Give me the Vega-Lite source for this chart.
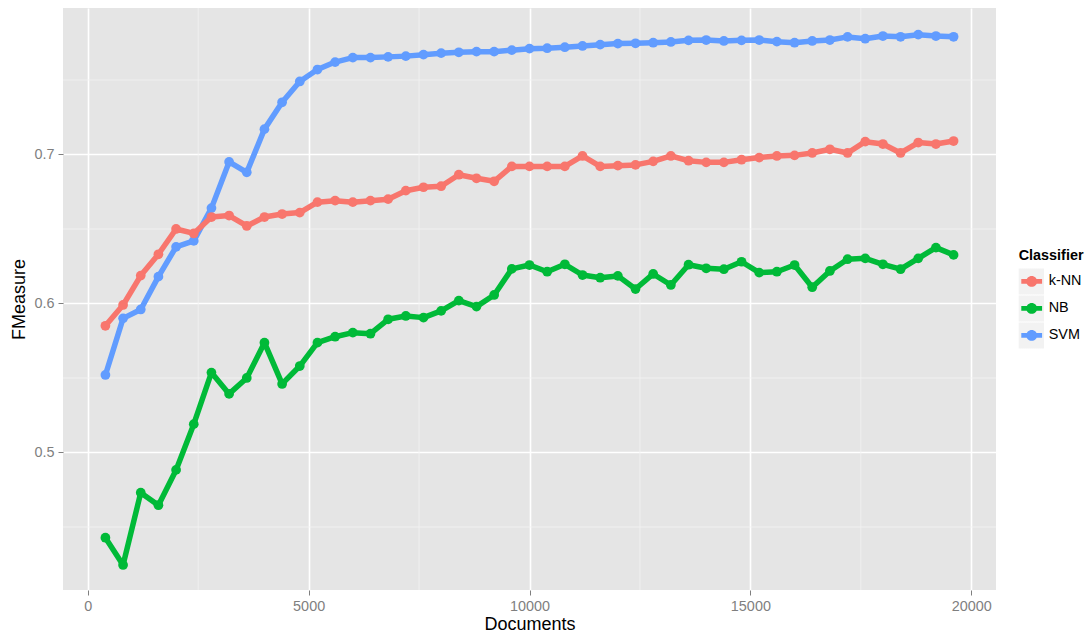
{
  "$schema": "https://vega.github.io/schema/vega-lite/v6.json",
  "autosize": {"type": "none"},
  "padding": {"left": 63, "top": 8, "right": 90, "bottom": 45},
  "width": 933,
  "height": 582,
  "config": {
    "view": {"fill": "#E5E5E5", "stroke": null},
    "font": "Liberation Sans",
    "axis": {
      "domain": false,
      "grid": true,
      "gridColor": "#FFFFFF",
      "gridWidth": 1.6,
      "tickColor": "#7F7F7F",
      "tickSize": 5,
      "tickWidth": 1,
      "labelColor": "#7F7F7F",
      "labelFontSize": 14.4,
      "labelPadding": 4,
      "titleColor": "#000000",
      "titleFontSize": 18,
      "titleFontWeight": "normal"
    }
  },
  "datasets": {
    "minorx": [{"v": 2500}, {"v": 7500}, {"v": 12500}, {"v": 17500}],
    "minory": [{"v": 0.45}, {"v": 0.55}, {"v": 0.65}, {"v": 0.75}],
    "main": [
      {"Documents": 400, "Classifier": "SVM", "FMeasure": 0.552},
      {"Documents": 800, "Classifier": "SVM", "FMeasure": 0.590},
      {"Documents": 1200, "Classifier": "SVM", "FMeasure": 0.596},
      {"Documents": 1600, "Classifier": "SVM", "FMeasure": 0.618},
      {"Documents": 2000, "Classifier": "SVM", "FMeasure": 0.638},
      {"Documents": 2400, "Classifier": "SVM", "FMeasure": 0.642},
      {"Documents": 2800, "Classifier": "SVM", "FMeasure": 0.664},
      {"Documents": 3200, "Classifier": "SVM", "FMeasure": 0.695},
      {"Documents": 3600, "Classifier": "SVM", "FMeasure": 0.688},
      {"Documents": 4000, "Classifier": "SVM", "FMeasure": 0.717},
      {"Documents": 4400, "Classifier": "SVM", "FMeasure": 0.735},
      {"Documents": 4800, "Classifier": "SVM", "FMeasure": 0.749},
      {"Documents": 5200, "Classifier": "SVM", "FMeasure": 0.757},
      {"Documents": 5600, "Classifier": "SVM", "FMeasure": 0.762},
      {"Documents": 6000, "Classifier": "SVM", "FMeasure": 0.765},
      {"Documents": 6400, "Classifier": "SVM", "FMeasure": 0.765},
      {"Documents": 6800, "Classifier": "SVM", "FMeasure": 0.7655},
      {"Documents": 7200, "Classifier": "SVM", "FMeasure": 0.766},
      {"Documents": 7600, "Classifier": "SVM", "FMeasure": 0.767},
      {"Documents": 8000, "Classifier": "SVM", "FMeasure": 0.768},
      {"Documents": 8400, "Classifier": "SVM", "FMeasure": 0.7686},
      {"Documents": 8800, "Classifier": "SVM", "FMeasure": 0.769},
      {"Documents": 9200, "Classifier": "SVM", "FMeasure": 0.769},
      {"Documents": 9600, "Classifier": "SVM", "FMeasure": 0.770},
      {"Documents": 10000, "Classifier": "SVM", "FMeasure": 0.771},
      {"Documents": 10400, "Classifier": "SVM", "FMeasure": 0.7713},
      {"Documents": 10800, "Classifier": "SVM", "FMeasure": 0.772},
      {"Documents": 11200, "Classifier": "SVM", "FMeasure": 0.7728},
      {"Documents": 11600, "Classifier": "SVM", "FMeasure": 0.7737},
      {"Documents": 12000, "Classifier": "SVM", "FMeasure": 0.7744},
      {"Documents": 12400, "Classifier": "SVM", "FMeasure": 0.7746},
      {"Documents": 12800, "Classifier": "SVM", "FMeasure": 0.775},
      {"Documents": 13200, "Classifier": "SVM", "FMeasure": 0.7755},
      {"Documents": 13600, "Classifier": "SVM", "FMeasure": 0.7766},
      {"Documents": 14000, "Classifier": "SVM", "FMeasure": 0.7768},
      {"Documents": 14400, "Classifier": "SVM", "FMeasure": 0.7762},
      {"Documents": 14800, "Classifier": "SVM", "FMeasure": 0.7766},
      {"Documents": 15200, "Classifier": "SVM", "FMeasure": 0.7768},
      {"Documents": 15600, "Classifier": "SVM", "FMeasure": 0.7757},
      {"Documents": 16000, "Classifier": "SVM", "FMeasure": 0.775},
      {"Documents": 16400, "Classifier": "SVM", "FMeasure": 0.7762},
      {"Documents": 16800, "Classifier": "SVM", "FMeasure": 0.7768},
      {"Documents": 17200, "Classifier": "SVM", "FMeasure": 0.7789},
      {"Documents": 17600, "Classifier": "SVM", "FMeasure": 0.7777},
      {"Documents": 18000, "Classifier": "SVM", "FMeasure": 0.7795},
      {"Documents": 18400, "Classifier": "SVM", "FMeasure": 0.779},
      {"Documents": 18800, "Classifier": "SVM", "FMeasure": 0.7804},
      {"Documents": 19200, "Classifier": "SVM", "FMeasure": 0.7795},
      {"Documents": 19600, "Classifier": "SVM", "FMeasure": 0.779},
      {"Documents": 400, "Classifier": "k-NN", "FMeasure": 0.585},
      {"Documents": 800, "Classifier": "k-NN", "FMeasure": 0.599},
      {"Documents": 1200, "Classifier": "k-NN", "FMeasure": 0.6187},
      {"Documents": 1600, "Classifier": "k-NN", "FMeasure": 0.633},
      {"Documents": 2000, "Classifier": "k-NN", "FMeasure": 0.650},
      {"Documents": 2400, "Classifier": "k-NN", "FMeasure": 0.647},
      {"Documents": 2800, "Classifier": "k-NN", "FMeasure": 0.658},
      {"Documents": 3200, "Classifier": "k-NN", "FMeasure": 0.659},
      {"Documents": 3600, "Classifier": "k-NN", "FMeasure": 0.652},
      {"Documents": 4000, "Classifier": "k-NN", "FMeasure": 0.658},
      {"Documents": 4400, "Classifier": "k-NN", "FMeasure": 0.660},
      {"Documents": 4800, "Classifier": "k-NN", "FMeasure": 0.661},
      {"Documents": 5200, "Classifier": "k-NN", "FMeasure": 0.668},
      {"Documents": 5600, "Classifier": "k-NN", "FMeasure": 0.669},
      {"Documents": 6000, "Classifier": "k-NN", "FMeasure": 0.668},
      {"Documents": 6400, "Classifier": "k-NN", "FMeasure": 0.669},
      {"Documents": 6800, "Classifier": "k-NN", "FMeasure": 0.670},
      {"Documents": 7200, "Classifier": "k-NN", "FMeasure": 0.6757},
      {"Documents": 7600, "Classifier": "k-NN", "FMeasure": 0.678},
      {"Documents": 8000, "Classifier": "k-NN", "FMeasure": 0.6787},
      {"Documents": 8400, "Classifier": "k-NN", "FMeasure": 0.6864},
      {"Documents": 8800, "Classifier": "k-NN", "FMeasure": 0.684},
      {"Documents": 9200, "Classifier": "k-NN", "FMeasure": 0.682},
      {"Documents": 9600, "Classifier": "k-NN", "FMeasure": 0.692},
      {"Documents": 10000, "Classifier": "k-NN", "FMeasure": 0.692},
      {"Documents": 10400, "Classifier": "k-NN", "FMeasure": 0.692},
      {"Documents": 10800, "Classifier": "k-NN", "FMeasure": 0.692},
      {"Documents": 11200, "Classifier": "k-NN", "FMeasure": 0.699},
      {"Documents": 11600, "Classifier": "k-NN", "FMeasure": 0.692},
      {"Documents": 12000, "Classifier": "k-NN", "FMeasure": 0.6925},
      {"Documents": 12400, "Classifier": "k-NN", "FMeasure": 0.693},
      {"Documents": 12800, "Classifier": "k-NN", "FMeasure": 0.6954},
      {"Documents": 13200, "Classifier": "k-NN", "FMeasure": 0.699},
      {"Documents": 13600, "Classifier": "k-NN", "FMeasure": 0.6958},
      {"Documents": 14000, "Classifier": "k-NN", "FMeasure": 0.6947},
      {"Documents": 14400, "Classifier": "k-NN", "FMeasure": 0.6947},
      {"Documents": 14800, "Classifier": "k-NN", "FMeasure": 0.6965},
      {"Documents": 15200, "Classifier": "k-NN", "FMeasure": 0.6979},
      {"Documents": 15600, "Classifier": "k-NN", "FMeasure": 0.699},
      {"Documents": 16000, "Classifier": "k-NN", "FMeasure": 0.6994},
      {"Documents": 16400, "Classifier": "k-NN", "FMeasure": 0.701},
      {"Documents": 16800, "Classifier": "k-NN", "FMeasure": 0.7035},
      {"Documents": 17200, "Classifier": "k-NN", "FMeasure": 0.701},
      {"Documents": 17600, "Classifier": "k-NN", "FMeasure": 0.7086},
      {"Documents": 18000, "Classifier": "k-NN", "FMeasure": 0.707},
      {"Documents": 18400, "Classifier": "k-NN", "FMeasure": 0.701},
      {"Documents": 18800, "Classifier": "k-NN", "FMeasure": 0.708},
      {"Documents": 19200, "Classifier": "k-NN", "FMeasure": 0.707},
      {"Documents": 19600, "Classifier": "k-NN", "FMeasure": 0.709},
      {"Documents": 400, "Classifier": "NB", "FMeasure": 0.4428},
      {"Documents": 800, "Classifier": "NB", "FMeasure": 0.4245},
      {"Documents": 1200, "Classifier": "NB", "FMeasure": 0.473},
      {"Documents": 1600, "Classifier": "NB", "FMeasure": 0.4646},
      {"Documents": 2000, "Classifier": "NB", "FMeasure": 0.4883},
      {"Documents": 2400, "Classifier": "NB", "FMeasure": 0.519},
      {"Documents": 2800, "Classifier": "NB", "FMeasure": 0.5536},
      {"Documents": 3200, "Classifier": "NB", "FMeasure": 0.5393},
      {"Documents": 3600, "Classifier": "NB", "FMeasure": 0.550},
      {"Documents": 4000, "Classifier": "NB", "FMeasure": 0.5737},
      {"Documents": 4400, "Classifier": "NB", "FMeasure": 0.546},
      {"Documents": 4800, "Classifier": "NB", "FMeasure": 0.558},
      {"Documents": 5200, "Classifier": "NB", "FMeasure": 0.5737},
      {"Documents": 5600, "Classifier": "NB", "FMeasure": 0.5777},
      {"Documents": 6000, "Classifier": "NB", "FMeasure": 0.5804},
      {"Documents": 6400, "Classifier": "NB", "FMeasure": 0.5797},
      {"Documents": 6800, "Classifier": "NB", "FMeasure": 0.5894},
      {"Documents": 7200, "Classifier": "NB", "FMeasure": 0.5916},
      {"Documents": 7600, "Classifier": "NB", "FMeasure": 0.5905},
      {"Documents": 8000, "Classifier": "NB", "FMeasure": 0.595},
      {"Documents": 8400, "Classifier": "NB", "FMeasure": 0.6019},
      {"Documents": 8800, "Classifier": "NB", "FMeasure": 0.5979},
      {"Documents": 9200, "Classifier": "NB", "FMeasure": 0.6057},
      {"Documents": 9600, "Classifier": "NB", "FMeasure": 0.6232},
      {"Documents": 10000, "Classifier": "NB", "FMeasure": 0.6258},
      {"Documents": 10400, "Classifier": "NB", "FMeasure": 0.6213},
      {"Documents": 10800, "Classifier": "NB", "FMeasure": 0.6263},
      {"Documents": 11200, "Classifier": "NB", "FMeasure": 0.6191},
      {"Documents": 11600, "Classifier": "NB", "FMeasure": 0.6173},
      {"Documents": 12000, "Classifier": "NB", "FMeasure": 0.6185},
      {"Documents": 12400, "Classifier": "NB", "FMeasure": 0.6097},
      {"Documents": 12800, "Classifier": "NB", "FMeasure": 0.6198},
      {"Documents": 13200, "Classifier": "NB", "FMeasure": 0.6124},
      {"Documents": 13600, "Classifier": "NB", "FMeasure": 0.626},
      {"Documents": 14000, "Classifier": "NB", "FMeasure": 0.6236},
      {"Documents": 14400, "Classifier": "NB", "FMeasure": 0.623},
      {"Documents": 14800, "Classifier": "NB", "FMeasure": 0.628},
      {"Documents": 15200, "Classifier": "NB", "FMeasure": 0.6207},
      {"Documents": 15600, "Classifier": "NB", "FMeasure": 0.6213},
      {"Documents": 16000, "Classifier": "NB", "FMeasure": 0.6258},
      {"Documents": 16400, "Classifier": "NB", "FMeasure": 0.6109},
      {"Documents": 16800, "Classifier": "NB", "FMeasure": 0.6218},
      {"Documents": 17200, "Classifier": "NB", "FMeasure": 0.6297},
      {"Documents": 17600, "Classifier": "NB", "FMeasure": 0.6303},
      {"Documents": 18000, "Classifier": "NB", "FMeasure": 0.6263},
      {"Documents": 18400, "Classifier": "NB", "FMeasure": 0.623},
      {"Documents": 18800, "Classifier": "NB", "FMeasure": 0.6303},
      {"Documents": 19200, "Classifier": "NB", "FMeasure": 0.6375},
      {"Documents": 19600, "Classifier": "NB", "FMeasure": 0.6326}
    ]
  },
  "layer": [
    {
      "data": {"name": "minorx"},
      "mark": {"type": "rule", "color": "#F2F2F2", "strokeWidth": 0.8},
      "encoding": {
        "x": {"field": "v", "type": "quantitative", "title": "Documents"}
      }
    },
    {
      "data": {"name": "minory"},
      "mark": {"type": "rule", "color": "#F2F2F2", "strokeWidth": 0.8},
      "encoding": {
        "y": {"field": "v", "type": "quantitative", "title": "FMeasure"}
      }
    },
    {
      "data": {"name": "main"},
      "mark": {"type": "line", "strokeWidth": 5.5, "strokeJoin": "round", "strokeCap": "round"},
      "encoding": {
        "x": {
          "field": "Documents", "type": "quantitative", "title": "Documents",
          "scale": {"domain": [-560, 20560], "nice": false, "zero": false},
          "axis": {"values": [0, 5000, 10000, 15000, 20000], "format": "d", "titlePadding": 3}
        },
        "y": {
          "field": "FMeasure", "type": "quantitative", "title": "FMeasure",
          "scale": {"domain": [0.4077, 0.7983], "nice": false, "zero": false},
          "axis": {"values": [0.5, 0.6, 0.7], "format": ".1f", "titlePadding": 5}
        },
        "color": {
          "field": "Classifier", "type": "nominal",
          "scale": {"domain": ["k-NN", "NB", "SVM"], "range": ["#F8766D", "#00BA38", "#619CFF"]},
          "legend": {
            "orient": "none",
            "legendX": 955.7,
            "legendY": 241,
            "padding": 0,
            "title": "Classifier",
            "titleFontSize": 14.4,
            "titleFontWeight": "bold",
            "titleColor": "#000000",
            "titlePadding": 5,
            "labelFontSize": 14.4,
            "labelColor": "#000000",
            "labelOffset": 4,
            "rowPadding": 1,
            "symbolSize": 676,
            "symbolStrokeWidth": 0,
            "symbolOpacity": 1,
            "symbolType": "M-1,-1L1,-1L1,-0.999L-1,-0.999Z M-1,0.999L1,0.999L1,1L-1,1Z M-0.8,-0.19L0.8,-0.19L0.8,0.19L-0.8,0.19Z M0.42,0A0.42,0.42 0 1,1 -0.42,0A0.42,0.42 0 1,1 0.42,0Z",
            "encode": {
              "symbols": {"update": {"fill": {"scale": "color", "field": "value"}, "stroke": {"value": "transparent"}}},
              "entries": {"update": {"fill": {"value": {"gradient": "linear", "x1": 0, "x2": 1, "y1": 0, "y2": 0, "stops": [{"offset": 0, "color": "#F2F2F2"}, {"offset": 0.405, "color": "#F2F2F2"}, {"offset": 0.406, "color": "rgba(242,242,242,0)"}, {"offset": 1, "color": "rgba(242,242,242,0)"}]}}}}
            }
          }
        }
      }
    },
    {
      "data": {"name": "main"},
      "mark": {"type": "circle", "size": 95, "opacity": 1},
      "encoding": {
        "x": {"field": "Documents", "type": "quantitative"},
        "y": {"field": "FMeasure", "type": "quantitative"},
        "color": {"field": "Classifier", "type": "nominal"}
      }
    }
  ]
}
